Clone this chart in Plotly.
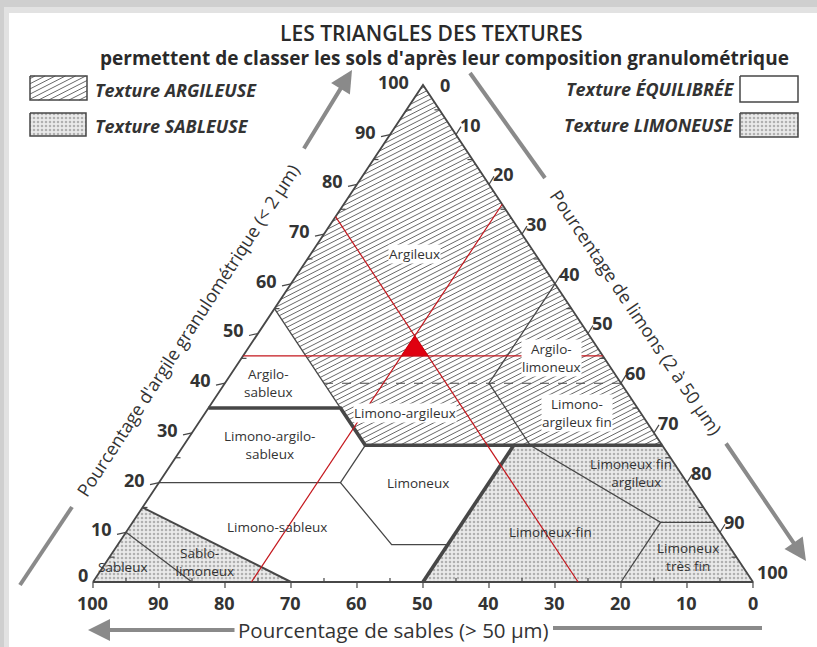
import math
import plotly.graph_objects as go

# ---------------------------------------------------------------- canvas
W, H = 817, 647
XR = (-14.09, 109.70)      # ternary x = silt + clay/2
YR = (-13.08, 117.10)      # ternary y = clay
KX = W / (XR[1] - XR[0])   # px per unit
KY = H / (YR[1] - YR[0])

FONT = "Open Sans"
INK = "#333333"
LINE = "#474747"
RED = "#c4161c"

# ------------------------------------------------ texture classes (clay %, silt %)
TRIANGLE = [(0, 0), (100, 0), (0, 100), (0, 0)]
ARGILEUSE_ZONE = [(55, 0), (100, 0), (27.5, 72.5), (27.5, 27.5)]
SABLEUSE_ZONE = [(0, 0), (15, 0), (0, 30)]
LIMONEUSE_ZONE = [(27.5, 50), (27.5, 72.5), (0, 100), (0, 50)]

THIN_BOUNDARIES = [
    [(55, 0), (35, 20)],
    [(60, 40), (40, 40), (27.5, 52.5), (12, 80), (12, 88)],
    [(12, 80), (0, 80)],
    [(20, 0), (20, 27.5), (27.5, 27.5)],
    [(20, 27.5), (7.5, 41.5), (7.5, 50)],
    [(10, 0), (0, 15)],
]
MEDIUM_BOUNDARIES = [[(15, 0), (0, 30)]]
DASHED_BOUNDARIES = [[(40, 15), (40, 60)]]
THICK_BOUNDARIES = [
    [(35, 0), (35, 20), (27.5, 27.5), (27.5, 72.5)],
    [(27.5, 50), (0, 50)],
]

# sample soil read on the three axes
SAMPLE_CLAY = 45.5
SAMPLE_SILT = 24
SAMPLE_SAND = 26.5

CLASS_NAMES = ["Argileux", "Argilo-<br>limoneux", "Limono-argileux",
               "Limono-<br>argileux fin", "Argilo-<br>sableux",
               "Limono-argilo-<br>sableux", "Limoneux", "Limono-sableux",
               "Limoneux fin<br>   argileux", "Limoneux-fin",
               "Limoneux<br>très fin", "Sablo-<br>   limoneux", "Sableux"]
CLASS_CLAY = [66, 45, 34, 34, 40, 27.5, 20, 11, 22, 10, 5, 4, 3]
CLASS_SILT = [15.7, 47, 30.2, 56.4, 6.6, 13, 39.2, 22.4, 70.5, 64.3, 87.6, 14.1, 3]
CLASS_ON_HATCH = [True, True, True, True, False, False, False, False,
                  False, False, False, False, False]

TICKS = [0, 10, 20, 30, 40, 50, 60, 70, 80, 90, 100]
MINOR_TICKS = [5, 15, 25, 35, 45, 55, 65, 75, 85, 95]


def xy(clay, silt):
    return silt + clay / 2.0, clay


def px_off(X, Y, dxp, dyp):
    """shift a data point by a screen offset in pixels (y down)"""
    return X + dxp / KX, Y - dyp / KY


def to_px(X, Y):
    return (X - XR[0]) * KX, (YR[1] - Y) * KY


def from_px(px, py):
    return px / KX + XR[0], YR[1] - py / KY


def polyline_xy(lines):
    xs, ys = [], []
    for line in lines:
        for c, s in line:
            X, Y = xy(c, s)
            xs.append(X)
            ys.append(Y)
        xs.append(None)
        ys.append(None)
    return xs, ys


def hatch_xy(poly, spacing=4.6, angle=27):
    """diagonal hatch lines clipped to a convex polygon given in data units"""
    th = math.radians(angle)
    nx, ny = math.sin(th), math.cos(th)
    dx, dy = math.cos(th), -math.sin(th)
    P = [to_px(X, Y) for X, Y in poly]
    proj = [nx * p[0] + ny * p[1] for p in P]
    xs, ys = [], []
    t = min(proj) + spacing / 2
    while t < max(proj):
        pts = []
        for i in range(len(P)):
            a, b = P[i], P[(i + 1) % len(P)]
            fa = nx * a[0] + ny * a[1] - t
            fb = nx * b[0] + ny * b[1] - t
            if (fa <= 0 < fb) or (fb <= 0 < fa):
                r = fa / (fa - fb)
                pts.append((a[0] + (b[0] - a[0]) * r, a[1] + (b[1] - a[1]) * r))
        if len(pts) >= 2:
            pts.sort(key=lambda p: p[0] * dx + p[1] * dy)
            for p in (pts[0], pts[-1]):
                X, Y = from_px(*p)
                xs.append(X)
                ys.append(Y)
            xs.append(None)
            ys.append(None)
        t += spacing
    return xs, ys


fig = go.Figure()

STIPPLE = dict(shape=".", fgcolor="#767676", bgcolor="#eaeaea", size=4, solidity=0.33)

# stippled zones
for zone in (SABLEUSE_ZONE, LIMONEUSE_ZONE):
    X, Y = zip(*[xy(c, s) for c, s in zone])
    fig.add_trace(go.Scatter(x=list(X) + [X[0]], y=list(Y) + [Y[0]], mode="lines",
                             fill="toself", fillpattern=STIPPLE,
                             line=dict(width=0), hoverinfo="skip"))

# hatched zone
HATCH_LINE = dict(color="#575757", width=0.9)
hx, hy = hatch_xy([xy(c, s) for c, s in ARGILEUSE_ZONE])
fig.add_trace(go.Scatter(x=hx, y=hy, mode="lines", line=HATCH_LINE, hoverinfo="skip"))

# boundaries
for lines, width, dash in ((THIN_BOUNDARIES, 1.3, "solid"),
                           (DASHED_BOUNDARIES, 1.1, "dash"),
                           (MEDIUM_BOUNDARIES, 2.0, "solid"),
                           ([TRIANGLE], 1.8, "solid"),
                           (THICK_BOUNDARIES, 3.6, "solid")):
    bx, by = polyline_xy(lines)
    fig.add_trace(go.Scatter(x=bx, y=by, mode="lines",
                             line=dict(color=LINE, width=width, dash=dash),
                             hoverinfo="skip"))

# reading lines for the sample soil
red_lines = [
    [(SAMPLE_CLAY, 0), (SAMPLE_CLAY, 100 - SAMPLE_CLAY)],
    [(100 - SAMPLE_SILT, SAMPLE_SILT), (0, SAMPLE_SILT)],
    [(100 - SAMPLE_SAND, 0), (0, 100 - SAMPLE_SAND)],
]
rx, ry = polyline_xy(red_lines)
fig.add_trace(go.Scatter(x=rx, y=ry, mode="lines",
                         line=dict(color=RED, width=1.2), hoverinfo="skip"))
tri = [(SAMPLE_CLAY, SAMPLE_SILT), (SAMPLE_CLAY, 100 - SAMPLE_CLAY - SAMPLE_SAND),
       (100 - SAMPLE_SILT - SAMPLE_SAND, SAMPLE_SILT), (SAMPLE_CLAY, SAMPLE_SILT)]
tx, ty = zip(*[xy(c, s) for c, s in tri])
fig.add_trace(go.Scatter(x=tx, y=ty, mode="lines", fill="toself",
                         fillcolor="#e00010", line=dict(color="#d0000c", width=1),
                         hoverinfo="skip"))

# ticks and leaders
tkx, tky = [], []


def seg(X, Y, dxp, dyp, sx=0, sy=0):
    a = px_off(X, Y, sx, sy)
    b = px_off(X, Y, dxp, dyp)
    tkx.extend([a[0], b[0], None])
    tky.extend([a[1], b[1], None])


for v in MINOR_TICKS:
    seg(*xy(v, 0), 5, 0)
    seg(*xy(100 - v, v), -5, 0)
    seg(*xy(0, 100 - v), 0, -4)
for v in TICKS:
    seg(*xy(0, 100 - v), 0, 6)
    if 0 < v < 100:
        seg(*xy(v, 0), -9, 2)
        seg(*xy(100 - v, v), 5, -8)
fig.add_trace(go.Scatter(x=tkx, y=tky, mode="lines",
                         line=dict(color=LINE, width=1.2), hoverinfo="skip"))


# legend swatches (pixel boxes converted to data units)
def box(px0, py0, px1, py1):
    a = from_px(px0, py0)
    b = from_px(px1, py1)
    return [(a[0], a[1]), (b[0], a[1]), (b[0], b[1]), (a[0], b[1])]


sw_arg = box(30, 76, 87, 100)
sw_sab = box(30, 113, 86, 136)
sw_equ = box(740, 76, 798, 102)
sw_lim = box(740, 113, 798, 137)
hx, hy = hatch_xy(sw_arg)
fig.add_trace(go.Scatter(x=hx, y=hy, mode="lines", line=HATCH_LINE, hoverinfo="skip"))
for sw, patt in ((sw_sab, True), (sw_lim, True), (sw_arg, False), (sw_equ, False)):
    X, Y = zip(*sw)
    kw = dict(fill="toself", fillpattern=STIPPLE) if patt else {}
    fig.add_trace(go.Scatter(x=list(X) + [X[0]], y=list(Y) + [Y[0]], mode="lines",
                             line=dict(color=LINE, width=1.5), hoverinfo="skip", **kw))

# --------------------------------------------------------------- texts
ann = []


def text(x, y, s, size=14, weight="normal", italic=False, xanchor="center", angle=0,
         bg=None, ref="data", color=INK):
    d = dict(x=x, y=y, text=s, showarrow=False, xanchor=xanchor, yanchor="middle",
             textangle=angle,
             font=dict(family=FONT, size=size, color=color, weight=weight,
                       style="italic" if italic else "normal"))
    if ref == "paper":
        d.update(xref="paper", yref="paper")
    if bg:
        d.update(bgcolor=bg, borderpad=0)
    ann.append(d)


for name, c, s, on_h in zip(CLASS_NAMES, CLASS_CLAY, CLASS_SILT, CLASS_ON_HATCH):
    X, Y = xy(c, s)
    text(X, Y, name, size=13.5, bg="white" if on_h else None)

for v in TICKS:
    X, Y = xy(v, 0)
    dx, dy = (-3, 7) if v == 0 else (-12, 3)
    x, y = px_off(X, Y, dx, -dy)
    text(x, y, str(v), size=18, weight="bold", xanchor="right")
    X, Y = xy(100 - v, v)
    dx, dy = (15, 0) if v == 0 else (2, 10)
    x, y = px_off(X, Y, dx, -dy)
    text(x, y, str(v), size=18, weight="bold", xanchor="left")
    X, Y = xy(0, 100 - v)
    x, y = px_off(X, Y, 0, 21)
    text(x, y, str(v), size=18, weight="bold")

# axis titles
x, y = from_px(188, 330)
text(x, y, "Pourcentage d'argile granulométrique (&lt; 2 µm)", size=18, angle=-57,
     weight=500)
x, y = from_px(636, 312)
text(x, y, "Pourcentage de limons (2 à 50 µm)", size=18, angle=56, weight=500)
x, y = from_px(236, 630)
text(x, y, "Pourcentage de sables (&gt; 50 µm)", size=20.5, xanchor="left", weight=500)

# title block and legend
text(431 / W, 1 - 33 / H, "LES TRIANGLES DES TEXTURES", size=21, weight=600,
     ref="paper", color="#2a2a2a")
text(444 / W, 1 - 58 / H,
     "permettent de classer les sols d'après leur composition granulométrique",
     size=19, weight="bold", ref="paper", color="#2a2a2a")
text(93 / W, 1 - 90 / H, "Texture ARGILEUSE", size=18, weight="bold", italic=True,
     xanchor="left", ref="paper")
text(93 / W, 1 - 126 / H, "Texture SABLEUSE", size=18, weight="bold", italic=True,
     xanchor="left", ref="paper")
text(737 / W, 1 - 89 / H, "Texture ÉQUILIBRÉE", size=18, weight="bold", italic=True,
     xanchor="right", ref="paper")
text(736 / W, 1 - 125 / H, "Texture LIMONEUSE", size=18, weight="bold", italic=True,
     xanchor="right", ref="paper")

# gray axis arrows
ARROW = "#8a8a8a"


def arrow(p_head, p_tail):
    hx_, hy_ = from_px(*p_head)
    tx_, ty_ = from_px(*p_tail)
    ann.append(dict(x=hx_, y=hy_, ax=tx_, ay=ty_, xref="x", yref="y", axref="x", ayref="y",
                    text="", showarrow=True, arrowhead=2, arrowsize=1.1, arrowwidth=4,
                    arrowcolor=ARROW))


arrow((352, 70), (303, 150))
arrow((806, 561), (725, 442))
arrow((88, 630), (236, 630))

shapes = [
    # frame shadow
    dict(type="rect", xref="paper", yref="paper", x0=0, x1=1, y0=1 - 14 / H, y1=1,
         fillcolor="#cfcfcf", line=dict(width=0), layer="below"),
    dict(type="rect", xref="paper", yref="paper", x0=0, x1=10 / W, y0=0, y1=1,
         fillcolor="#cfcfcf", line=dict(width=0), layer="below"),
    dict(type="rect", xref="paper", yref="paper", x0=4 / W, x1=1, y0=0, y1=1 - 7 / H,
         fillcolor="#e2e2e2", line=dict(width=0), layer="below"),
    dict(type="rect", xref="paper", yref="paper", x0=9 / W, x1=1, y0=0, y1=1 - 13 / H,
         fillcolor="white", line=dict(width=0), layer="below"),
]
for (a, b) in (((20, 585), (72, 507)), ((470, 73), (545, 178)), ((553, 628), (762, 628))):
    A = from_px(*a)
    B = from_px(*b)
    shapes.append(dict(type="line", xref="x", yref="y", x0=A[0], y0=A[1], x1=B[0], y1=B[1],
                       line=dict(color=ARROW, width=4)))

fig.update_layout(
    width=W, height=H, margin=dict(l=0, r=0, t=0, b=0),
    paper_bgcolor="white", plot_bgcolor="rgba(0,0,0,0)",
    showlegend=False,
    xaxis=dict(range=list(XR), visible=False, fixedrange=True),
    yaxis=dict(range=list(YR), visible=False, fixedrange=True),
    annotations=ann, shapes=shapes,
)

fig.write_html("out.html")
